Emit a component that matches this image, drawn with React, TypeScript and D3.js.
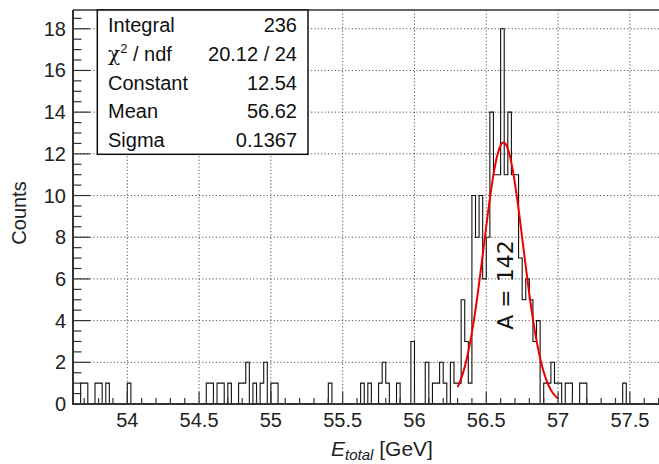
import React from "react";
import * as d3 from "d3";

// ---- data ----
const BIN_WIDTH = 0.025;
const X_MIN = 53.625;
const X_MAX = 57.9;
const Y_MAX = 18.9;

// low edges of non-empty bins and their counts
const binLow = [
  53.675, 53.7, 53.775, 53.8, 53.85, 54.0,
  54.55, 54.575, 54.625, 54.65, 54.7,
  54.775, 54.8, 54.825, 54.875, 54.925, 54.95,
  55.0, 55.025, 55.4, 55.625, 55.675,
  55.75, 55.775, 55.8, 55.875, 55.975, 56.075,
  56.125, 56.15, 56.175, 56.2,
  56.25, 56.275, 56.3, 56.325, 56.35, 56.375, 56.4, 56.425, 56.45, 56.475, 56.5,
  56.525, 56.55, 56.575, 56.6, 56.625, 56.65, 56.675, 56.7, 56.725, 56.75,
  56.775, 56.8, 56.825, 56.85,
  56.9, 56.925, 56.95, 56.975, 57.0,
  57.05, 57.075, 57.15, 57.175, 57.45,
];
const binCount = [
  1, 1, 1, 1, 1, 1,
  1, 1, 1, 1, 1,
  1, 1, 2, 1, 1, 2,
  1, 1, 1, 1, 1,
  1, 2, 1, 1, 3, 2,
  1, 1, 2, 1,
  2, 1, 1, 5, 3, 1, 10, 8, 10, 6, 8,
  14, 11, 11, 18, 11, 14, 11, 11, 7, 5,
  6, 5, 3, 4,
  1, 1, 2, 1, 1,
  1, 1, 1, 1, 1,
];

const xTicks = [54, 54.5, 55, 55.5, 56, 56.5, 57, 57.5];
const xTickLabels = ["54", "54.5", "55", "55.5", "56", "56.5", "57", "57.5"];
const yTicks = [0, 2, 4, 6, 8, 10, 12, 14, 16, 18];
const yTickLabels = ["0", "2", "4", "6", "8", "10", "12", "14", "16", "18"];

// fit result (gaus) shown in the stats box
const FIT_CONSTANT = 12.54;
const FIT_MEAN = 56.62;
const FIT_SIGMA = 0.1367;
const FIT_RANGE = [56.3, 57.0];

const statLabels = ["Integral", "chi", "Constant", "Mean", "Sigma"];
const statValues = ["236", "20.12 / 24", "12.54", "56.62", "0.1367"];

// ---- layout ----
const W = 659;
const H = 464;
const LEFT = 73;
const TOP = 10;
const BOTTOM = 404;
const FONT = "'Liberation Sans', Arial, Helvetica, sans-serif";

export default function App() {
  const x = d3.scaleLinear().domain([X_MIN, X_MAX]).range([73.45, 687.3]);
  const y = d3.scaleLinear().domain([0, Y_MAX]).range([BOTTOM, TOP]);

  const nBins = Math.round((X_MAX - X_MIN) / BIN_WIDTH);
  const full = new Array(nBins).fill(0);
  binLow.forEach((lo, i) => {
    const idx = Math.round((lo - X_MIN) / BIN_WIDTH);
    full[idx] = binCount[i];
  });
  const pts: [number, number][] = [[X_MIN, 0]];
  full.forEach((c, i) => {
    const lo = X_MIN + i * BIN_WIDTH;
    pts.push([lo, c]);
    pts.push([lo + BIN_WIDTH, c]);
  });
  pts.push([X_MAX, 0]);
  const histPath = d3
    .line<[number, number]>()
    .x((d) => x(d[0]))
    .y((d) => y(d[1]))(pts);

  const fitPts: [number, number][] = d3
    .range(0, 201)
    .map((i) => {
      const v = FIT_RANGE[0] + ((FIT_RANGE[1] - FIT_RANGE[0]) * i) / 200;
      const z = (v - FIT_MEAN) / FIT_SIGMA;
      return [v, FIT_CONSTANT * Math.exp(-0.5 * z * z)];
    });
  const fitPath = d3
    .line<[number, number]>()
    .x((d) => x(d[0]))
    .y((d) => y(d[1]))
    .curve(d3.curveLinear)(fitPts);

  const xMinor = d3.range(53.7, X_MAX, 0.1).filter((v) => Math.abs(v * 2 - Math.round(v * 2)) > 1e-6);
  const yMinor = d3.range(0.5, Y_MAX, 0.5).filter((v) => Math.abs(v / 2 - Math.round(v / 2)) > 1e-6);

  const rowY = [31.5, 60.5, 89.5, 118, 147];

  return (
    <svg
      width={W}
      height={H}
      style={{ position: "absolute", left: 0, top: 0, background: "#fff" }}
      fontFamily={FONT}
    >
      <defs>
        <clipPath id="plot">
          <rect x={LEFT} y={TOP} width={W - LEFT + 40} height={BOTTOM - TOP} />
        </clipPath>
      </defs>
      <rect x={0} y={0} width={W} height={H} fill="#fff" />

      {/* grid */}
      <g stroke="#555" strokeWidth={1} strokeDasharray="1.2 2.2" clipPath="url(#plot)">
        {xTicks.map((t) => (
          <line key={"gx" + t} x1={x(t)} x2={x(t)} y1={TOP} y2={BOTTOM} />
        ))}
        {yTicks.slice(1).map((t) => (
          <line key={"gy" + t} x1={LEFT} x2={W + 10} y1={y(t)} y2={y(t)} />
        ))}
      </g>

      {/* histogram */}
      <path d={histPath || ""} fill="none" stroke="#111" strokeWidth={1.1} clipPath="url(#plot)" />

      {/* fit */}
      <path d={fitPath || ""} fill="none" stroke="#ee0000" strokeWidth={2} />

      {/* ticks */}
      <g stroke="#333" strokeWidth={1.2}>
        {xTicks.map((t) => (
          <line key={"tx" + t} x1={x(t)} x2={x(t)} y1={BOTTOM} y2={BOTTOM - 12} />
        ))}
        {xMinor.map((t) => (
          <line key={"mx" + t} x1={x(t)} x2={x(t)} y1={BOTTOM} y2={BOTTOM - 6} />
        ))}
        {yTicks.map((t) => (
          <line key={"ty" + t} x1={LEFT} x2={LEFT + 17} y1={y(t)} y2={y(t)} />
        ))}
        {yMinor.map((t) => (
          <line key={"my" + t} x1={LEFT} x2={LEFT + 8.5} y1={y(t)} y2={y(t)} />
        ))}
      </g>

      {/* frame / axes */}
      <line x1={LEFT} x2={W + 10} y1={TOP} y2={TOP} stroke="#333" strokeWidth={1.6} />
      <line x1={LEFT} x2={LEFT} y1={TOP} y2={BOTTOM + 1} stroke="#333" strokeWidth={2} />
      <line x1={LEFT - 1} x2={W + 10} y1={BOTTOM} y2={BOTTOM} stroke="#333" strokeWidth={2} />

      {/* tick labels */}
      <g fontSize={20} fill="#222">
        {xTicks.map((t, i) => (
          <text key={"lx" + t} x={x(t)} y={427} textAnchor="middle">
            {xTickLabels[i]}
          </text>
        ))}
        {yTicks.map((t, i) => (
          <text key={"ly" + t} x={66} y={y(t) + 7} textAnchor="end">
            {yTickLabels[i]}
          </text>
        ))}
      </g>

      {/* axis titles */}
      <text x={26} y={213} fontSize={20} fill="#222" textAnchor="middle" transform="rotate(-90 26 213)">
        Counts
      </text>
      <text x={382} y={456} fontSize={21} fill="#222" textAnchor="middle">
        <tspan fontStyle="italic">E</tspan>
        <tspan fontStyle="italic" fontSize={15} dy={4}>
          total
        </tspan>
        <tspan dy={-4}> [GeV]</tspan>
      </text>

      {/* annotation */}
      <text
        x={513}
        y={285}
        fontSize={22}
        fontFamily="'DejaVu Sans', sans-serif"
        fill="#111"
        textAnchor="middle"
        transform="rotate(-90 513 285)"
      >
        A = 142
      </text>

      {/* stats box */}
      <rect x={97.3} y={TOP} width={210.7} height={144.3} fill="#fff" stroke="#111" strokeWidth={1.5} />
      <g fontSize={20} fill="#111">
        {statLabels.map((l, i) => (
          <text key={"sl" + i} x={108} y={rowY[i]}>
            {l === "chi" ? (
              <>
                <tspan fontFamily="'DejaVu Serif', serif">χ</tspan>
                <tspan fontSize={13} dy={-8}>
                  2
                </tspan>
                <tspan dy={8}> / ndf</tspan>
              </>
            ) : (
              l
            )}
          </text>
        ))}
        {statValues.map((v, i) => (
          <text key={"sv" + i} x={297} y={rowY[i]} textAnchor="end">
            {v}
          </text>
        ))}
      </g>
    </svg>
  );
}
